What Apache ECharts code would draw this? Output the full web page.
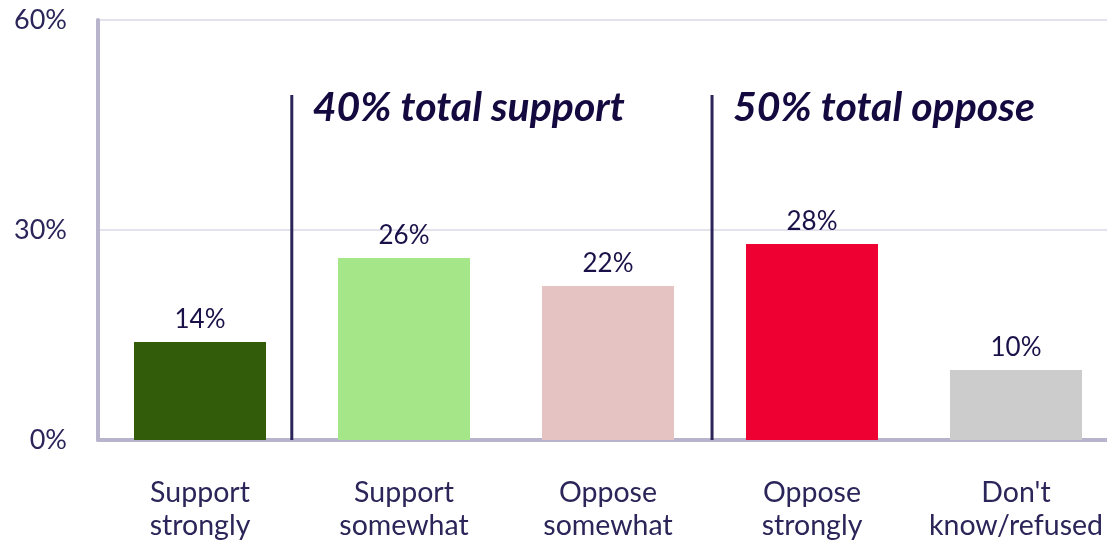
<!DOCTYPE html>
<html><head><meta charset="utf-8">
<script src="https://cdn.jsdelivr.net/npm/echarts@6/dist/echarts.min.js"></script>
<style>html,body{margin:0;padding:0;background:#fff}#c{width:1107px;height:540px}</style>
</head><body><div id="c"></div>
<script>
const categories = ['Support\nstrongly','Support\nsomewhat','Oppose\nsomewhat','Oppose\nstrongly',"Don't\nknow/refused"];
const values = [14, 26, 22, 28, 10];
const barColors = ['#335c0a','#a5e688','#e6c3c3','#ef0033','#cccccc'];
const yTicks = [0, 30, 60];
const separatorPositions = [0.45, 2.51];
const separatorTop = 49.3;
const annotationTexts = ['40% total support', '50% total oppose'];

const chart = echarts.init(document.getElementById('c'));
const FONT = 'Lato';
chart.setOption({
  animation: false,
  grid: {left: 98, right: -11, top: 20, bottom: 100, containLabel: false, outerBoundsMode: 'none'},
  xAxis: [{
    type: 'category', data: categories,
    axisLine: {onZero: false, lineStyle: {color: '#b8b4cc', width: 4}},
    axisTick: {show: false},
    axisLabel: {interval: 0, hideOverlap: false, color: '#2b2559', fontFamily: FONT, fontSize: 28.5, lineHeight: 33, margin: 36}
  }, {
    type: 'value', min: -0.5, max: 4.5, show: false
  }],
  yAxis: {
    type: 'value', min: yTicks[0], max: yTicks[yTicks.length-1], interval: 30,
    axisLine: {show: true, onZero: false, lineStyle: {color: '#b8b4cc', width: 4}},
    axisTick: {show: false},
    splitLine: {lineStyle: {color: '#e4e2ec', width: 2}},
    axisLabel: {formatter: '{value}%', color: '#2b2559', fontFamily: FONT, fontSize: 27, margin: 31}
  },
  series: [{
    type: 'bar', barWidth: 132,
    data: values.map((v, i) => ({value: v, itemStyle: {color: barColors[i]}})),
    label: {show: true, position: 'top', formatter: '{c}%', color: '#1b1149', fontFamily: FONT, fontSize: 26, distance: 9}
  }, {
    type: 'custom', xAxisIndex: 1, z: 5,
    data: separatorPositions.map((p, i) => [p, separatorTop, i]),
    renderItem: function (params, api) {
      const top = api.coord([api.value(0), api.value(1)]);
      const bot = api.coord([api.value(0), 0]);
      const idx = api.value(2);
      return {type: 'group', children: [
        {type: 'line', shape: {x1: top[0], y1: top[1], x2: bot[0], y2: bot[1]}, style: {stroke: '#2b2559', lineWidth: 3}},
        {type: 'text', x: top[0] + 21, y: top[1] + 13, style: {text: annotationTexts[idx], fill: '#140a40', font: 'italic bold 41px ' + FONT, textVerticalAlign: 'middle'}}
      ]};
    }
  }]
});
</script></body></html>
